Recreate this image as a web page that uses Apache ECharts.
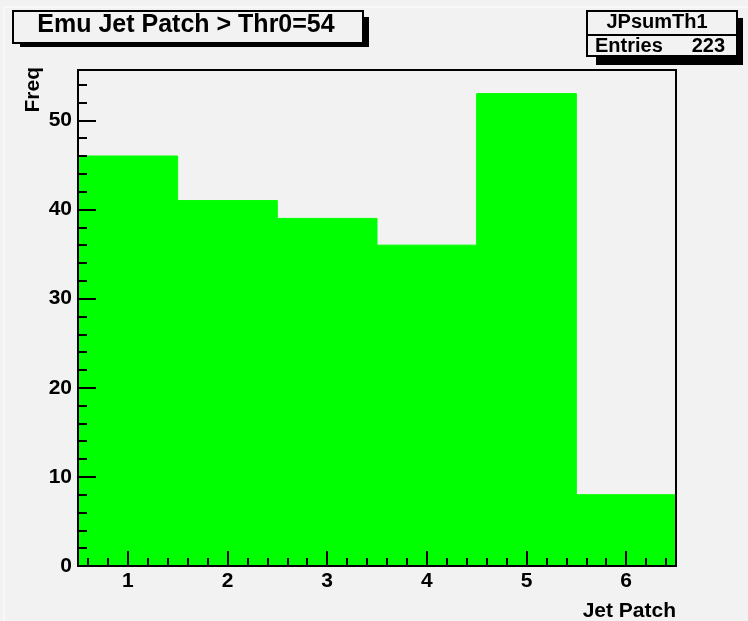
<!DOCTYPE html>
<html>
<head>
<meta charset="utf-8">
<script src="https://cdn.jsdelivr.net/npm/echarts@6/dist/echarts.min.js"></script>
<style>
  html, body { margin: 0; padding: 0; background: #f2f2f2; }
  #main { width: 748px; height: 621px; }
</style>
</head>
<body>
<div id="main"></div>
<script>
// Histogram data (bin centres and counts)
const patches = [1, 2, 3, 4, 5, 6];
const freq = [46, 41, 39, 36, 53, 8];
const xTickLabels = [1, 2, 3, 4, 5, 6];
const xMinorTicks = [0.6, 0.8, 1.2, 1.4, 1.6, 1.8, 2.2, 2.4, 2.6, 2.8, 3.2, 3.4, 3.6, 3.8,
    4.2, 4.4, 4.6, 4.8, 5.2, 5.4, 5.6, 5.8, 6.2, 6.4];

const FONT = 'Liberation Sans, Arial, Helvetica, sans-serif';
const BG = '#f2f2f2';
const Y_MAX = 55.65;

const chart = echarts.init(document.getElementById('main'), null, {renderer: 'canvas'});

const option = {
    backgroundColor: BG,
    animation: false,
    grid: {
        left: 78, top: 70, width: 598, height: 496,
        show: true, borderColor: '#000', borderWidth: 2,
        backgroundColor: 'transparent', z: 6
    },
    xAxis: [{
        type: 'value', min: 0.5, max: 6.5, z: 5,
        axisLine: {show: true, lineStyle: {color: '#000', width: 2}},
        axisTick: {show: true, inside: true, length: 15, customValues: xTickLabels, lineStyle: {color: '#000', width: 2}},
        axisLabel: {customValues: xTickLabels, color: '#000', fontFamily: FONT, fontWeight: 'bold', fontSize: 21, margin: 5},
        splitLine: {show: false}
    }, {
        type: 'value', min: 0.5, max: 6.5, z: 5, position: 'bottom',
        axisLine: {show: false},
        axisTick: {show: true, inside: true, length: 8, customValues: xMinorTicks, lineStyle: {color: '#000', width: 2}},
        axisLabel: {show: false},
        splitLine: {show: false}
    }],
    yAxis: [{
        type: 'value', min: 0, max: Y_MAX, interval: 10, z: 5,
        axisLine: {show: true, lineStyle: {color: '#000', width: 2}},
        axisTick: {show: true, inside: true, length: 18, lineStyle: {color: '#000', width: 2}},
        axisLabel: {showMaxLabel: false, color: '#000', fontFamily: FONT, fontWeight: 'bold', fontSize: 21, margin: 6},
        splitLine: {show: false}
    }, {
        type: 'value', min: 0, max: Y_MAX, interval: 2, z: 5, position: 'left',
        axisLine: {show: false},
        axisTick: {show: true, inside: true, length: 9, lineStyle: {color: '#000', width: 2}},
        axisLabel: {show: false},
        splitLine: {show: false}
    }],
    series: [{
        type: 'custom',
        z: 1,
        xAxisIndex: 0,
        yAxisIndex: 0,
        data: patches.map((p, i) => [p, freq[i]]),
        renderItem(params, api) {
            const x = api.value(0);
            const y = api.value(1);
            const p0 = api.coord([x - 0.5, y]);
            const p1 = api.coord([x + 0.5, 0]);
            return {
                type: 'rect',
                shape: {x: p0[0], y: p0[1], width: p1[0] - p0[0], height: p1[1] - p0[1]},
                style: {fill: '#00ff00', stroke: '#00ff00', lineWidth: 1}
            };
        }
    }],
    graphic: [
        // canvas highlight edges
        {type: 'line', shape: {x1: 4, y1: 7, x2: 748, y2: 7}, style: {stroke: '#ffffff', lineWidth: 1}},
        {type: 'line', shape: {x1: 4, y1: 7, x2: 4, y2: 621}, style: {stroke: '#ffffff', lineWidth: 1}},
        // title box with shadow
        {type: 'rect', left: 20, top: 17, shape: {width: 349, height: 30}, style: {fill: '#000'}},
        {type: 'rect', left: 12, top: 10, shape: {width: 350, height: 32}, style: {fill: BG, stroke: '#000', lineWidth: 2}},
        {type: 'text', x: 186, y: 25, style: {text: 'Emu Jet Patch > Thr0=54', fill: '#000', font: 'bold 25px ' + FONT, align: 'center', verticalAlign: 'middle'}},
        // stats box
        {type: 'rect', left: 596, top: 18, shape: {width: 147, height: 47}, style: {fill: '#000'}},
        {type: 'rect', left: 586, top: 10, shape: {width: 150, height: 45}, style: {fill: BG, stroke: '#000', lineWidth: 2}},
        {type: 'line', shape: {x1: 586, y1: 35, x2: 736, y2: 35}, style: {stroke: '#000', lineWidth: 2}},
        {type: 'text', x: 657, y: 22, style: {text: 'JPsumTh1', fill: '#000', font: 'bold 20px ' + FONT, align: 'center', verticalAlign: 'middle'}},
        {type: 'text', x: 595, y: 46, style: {text: 'Entries', fill: '#000', font: 'bold 20px ' + FONT, align: 'left', verticalAlign: 'middle'}},
        {type: 'text', x: 725, y: 46, style: {text: '223', fill: '#000', font: 'bold 20px ' + FONT, align: 'right', verticalAlign: 'middle'}},
        // axis titles
        {type: 'text', x: 33, y: 67, rotation: Math.PI / 2, style: {text: 'Freq', fill: '#000', font: 'bold 21px ' + FONT, align: 'right', verticalAlign: 'middle'}},
        {type: 'text', x: 676, y: 611, style: {text: 'Jet Patch', fill: '#000', font: 'bold 21px ' + FONT, align: 'right', verticalAlign: 'middle'}}
    ]
};

chart.setOption(option);
</script>
</body>
</html>
